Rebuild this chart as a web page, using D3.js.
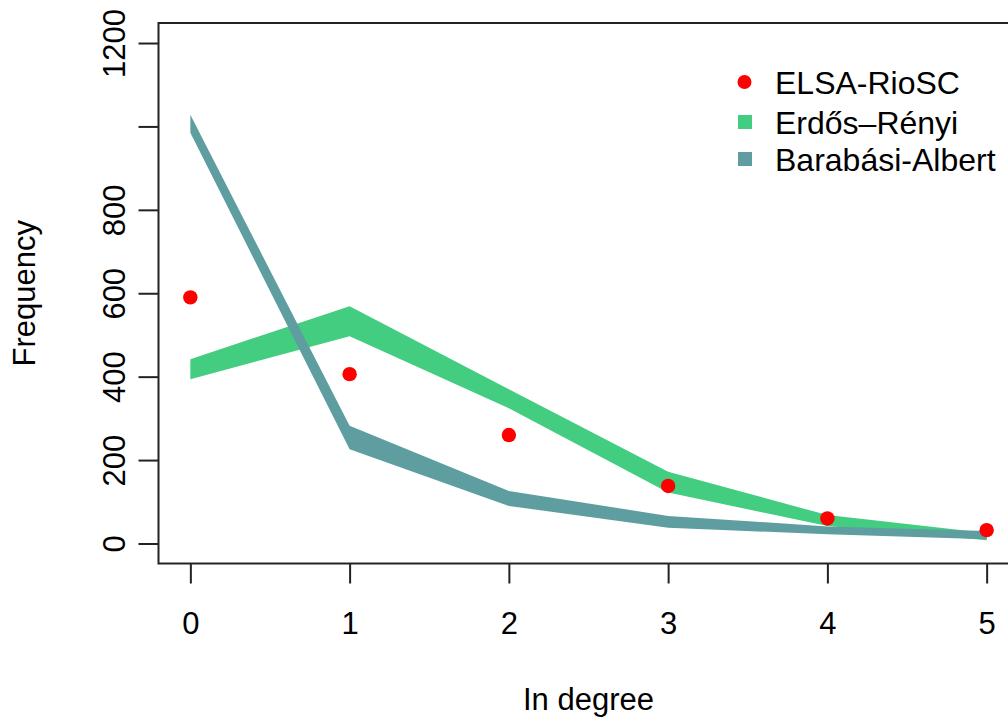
<!DOCTYPE html>
<html>
<head>
<meta charset="utf-8">
<script src="https://cdn.jsdelivr.net/npm/d3@7"></script>
<style>
  html, body { margin: 0; padding: 0; background: #fff; }
  svg text { font-family: "Liberation Sans", Arial, Helvetica, sans-serif; fill: #000; }
</style>
</head>
<body>
<svg id="chart" width="1008" height="717"></svg>
<script>
const degree = [0, 1, 2, 3, 4, 5];
const elsa = [590, 406, 260, 138, 60, 32];
const erLower = [394, 497, 324, 122, 42, 8];
const erUpper = [442, 569, 370, 172, 68, 25];
const baLower = [985, 226, 90, 38, 22, 10];
const baUpper = [1028, 282, 126, 66, 41, 30];
const xTicks = [0, 1, 2, 3, 4, 5];
const yTicks = [0, 200, 400, 600, 800, 1000, 1200];
const yTickLabels = ["0", "200", "400", "600", "800", "", "1200"];
const legendLabels = ["ELSA-RioSC", "Erdős–Rényi", "Barabási-Albert"];
const colors = { elsa: "#FF0000", er: "#43CD80", ba: "#5F9EA0" };

(function () {
const svg = d3.select("#chart");
const pLeft = 158.5, pRight = 1018.5, pTop = 23, pBottom = 563.5;
const fs = 31;

const x = d3.scaleLinear().domain([-0.2, 5.2]).range([pLeft, pRight]);
const y = d3.scaleLinear().domain([-48, 1248]).range([pBottom, pTop]);

// bands
function band(lower, upper) {
  const pts = degree.map((d, i) => [x(d), y(upper[i])])
    .concat(degree.map((d, i) => [x(d), y(lower[i])]).reverse());
  return d3.line()(pts) + "Z";
}
svg.append("path").attr("d", band(erLower, erUpper)).attr("fill", colors.er);
svg.append("path").attr("d", band(baLower, baUpper)).attr("fill", colors.ba);

// points
svg.append("g").selectAll("circle").data(degree).join("circle")
  .attr("cx", d => x(d))
  .attr("cy", (d, i) => y(elsa[i]))
  .attr("r", 7.2)
  .attr("fill", colors.elsa);

// box
svg.append("rect")
  .attr("x", pLeft).attr("y", pTop)
  .attr("width", pRight - pLeft).attr("height", pBottom - pTop)
  .attr("fill", "none").attr("stroke", "#222").attr("stroke-width", 2);

// x axis
const xAxis = d3.axisBottom(x).tickValues(xTicks).tickSize(20).tickFormat(d3.format("d"));
const gx = svg.append("g").attr("transform", `translate(0,${pBottom})`).call(xAxis);
gx.select(".domain").remove();
gx.selectAll(".tick line").attr("stroke", "#222").attr("stroke-width", 2);
gx.selectAll(".tick text").attr("font-size", fs).attr("dy", null).attr("y", 70)
  .attr("font-family", "Liberation Sans, Arial, sans-serif");

// y axis
const yAxis = d3.axisLeft(y).tickValues(yTicks).tickSize(20)
  .tickFormat((d, i) => yTickLabels[i]);
const gy = svg.append("g").attr("transform", `translate(${pLeft},0)`).call(yAxis);
gy.select(".domain").remove();
gy.selectAll(".tick line").attr("stroke", "#222").attr("stroke-width", 2);
gy.selectAll(".tick text")
  .attr("font-size", fs)
  .attr("font-family", "Liberation Sans, Arial, sans-serif")
  .attr("transform", "rotate(-90)")
  .attr("x", 0).attr("y", -34).attr("dy", null)
  .attr("text-anchor", "middle");

// axis titles
svg.append("text").attr("x", (pLeft + pRight) / 2).attr("y", 710)
  .attr("text-anchor", "middle").attr("font-size", fs).text("In degree");
svg.append("text")
  .attr("transform", `translate(34.5,${(pTop + pBottom) / 2}) rotate(-90)`)
  .attr("text-anchor", "middle").attr("font-size", fs).text("Frequency");

// legend
const lg = svg.append("g");
const legY = [82, 122, 159];
lg.append("circle").attr("cx", 744.5).attr("cy", legY[0]).attr("r", 7).attr("fill", colors.elsa);
lg.append("rect").attr("x", 738).attr("y", legY[1] - 7).attr("width", 14).attr("height", 14).attr("fill", colors.er);
lg.append("rect").attr("x", 738).attr("y", legY[2] - 7).attr("width", 14).attr("height", 14).attr("fill", colors.ba);
lg.selectAll("text").data(legendLabels).join("text")
  .attr("x", 775).attr("y", (d, i) => legY[i] + 11.5)
  .attr("font-size", 32).text(d => d);
})();
</script>
</body>
</html>
